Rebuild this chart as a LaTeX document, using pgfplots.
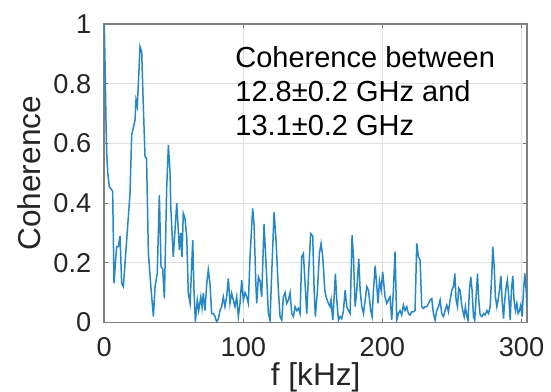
\documentclass[border=0pt]{standalone}
\usepackage{pgfplots}
\pgfplotsset{compat=1.18}
\usepackage{fontspec}
\setmainfont{Liberation Sans}
\definecolor{mblue}{rgb}{0,0.447,0.741}
\definecolor{tickgray}{rgb}{0.15,0.15,0.15}
\begin{document}
\begin{tikzpicture}
\begin{axis}[
  name=ax,
  width=211.35pt, height=149.25pt, scale only axis,
  xmin=0, xmax=304, ymin=0, ymax=1,
  xtick={0,100,200,300}, ytick={0,0.2,0.4,0.6,0.8,1},
  yticklabels={0,0.2,0.4,0.6,0.8,1},
  /pgf/number format/assume math mode=true,
  tick align=inside, major tick length=2pt,
  tick style={black!55, line width=0.6pt},
  axis line style={black!50, line width=0.8pt},
  grid=major, major grid style={gray!25, line width=0.6pt},
  ticklabel style={font=\fontsize{13.6}{16}\selectfont, text=tickgray},
  yticklabel style={inner sep=0pt, anchor=east, xshift=-6.3pt},
  xticklabel style={inner sep=0pt, anchor=north, yshift=-7.2pt},
  xlabel={f [kHz]}, ylabel={Coherence},
  label style={font=\fontsize{15.8}{18}\selectfont, text=tickgray, inner sep=0pt},
  xlabel style={at={(axis description cs:0.5,-0.2094)}, anchor=base},
  ylabel style={at={(axis description cs:-0.152,0.5)}, anchor=base},
  clip=true,
]
\addplot[mblue!85, line width=0.75pt] coordinates {
(0,1.0) (0.6,0.85) (1.2,0.68) (1.7,0.57) (2.5,0.50) (3.6,0.455) (5.3,0.444) (6.0,0.44)
(7.0,0.131) (8.0,0.20) (8.9,0.254) (10.1,0.254) (11.3,0.29) (12.5,0.131) (13.7,0.12)
(16.1,0.276) (18.5,0.433) (19.7,0.628) (22.1,0.678) (22.8,0.745) (23.7,0.725) (24.5,0.80)
(25.7,0.924) (26.9,0.907) (28.0,0.734) (29.3,0.555) (30.4,0.55) (31.7,0.232) (33.5,0.12)
(35.3,0.02) (36.5,0.12) (38.1,0.165) (39.6,0.427) (40.8,0.187) (42.0,0.18) (43.2,0.081)
(44.9,0.455) (46.1,0.595) (47.3,0.5) (47.8,0.388) (49.6,0.22) (52.1,0.40) (54.0,0.243)
(55.0,0.30) (55.9,0.22) (56.8,0.366) (58.0,0.35) (59.3,0.287) (60.4,0.098) (61.7,0.064)
(63.6,0.276) (64.5,0.109) (65.5,0.003) (66.9,0.075) (67.9,0.04) (69.4,0.086) (70.3,0.05)
(71.2,0.098) (72.4,0.04) (73.7,0.131) (74.8,0.176) (76.0,0.131) (77.2,0.03) (78.4,0.03)
(79.6,0.02) (80.8,0.003) (82.0,0.01) (83.2,0.04) (84.4,0.053) (85.6,0.086) (86.8,0.053)
(88.0,0.086) (89.2,0.148) (90.4,0.064) (91.6,0.098) (92.8,0.075) (94.0,0.053) (95.2,0.086)
(96.4,0.02) (97.6,0.064) (98.8,0.142) (100.0,0.075) (101.2,0.1) (102.4,0.086) (103.6,0.064)
(104.8,0.22) (106.7,0.382) (107.7,0.33) (108.9,0.14) (109.6,0.064) (110.8,0.153) (112.0,0.14)
(113.2,0.086) (114.9,0.33) (116.3,0.2) (118.0,0.03) (119.2,0.008) (120.4,0.164) (122.1,0.37)
(123.5,0.276) (125.2,0.108) (126.4,0.02) (127.6,0.008) (128.8,0.086) (130.0,0.1) (131.2,0.064)
(132.4,0.075) (133.6,0.1) (134.8,0.03) (136.0,0.02) (137.2,0.053) (138.4,0.04) (139.6,0.047)
(140.8,0.03) (142.0,0.22) (143.2,0.231) (144.4,0.13) (145.6,0.03) (146.8,0.153) (148.4,0.298)
(149.9,0.29) (150.9,0.108) (151.8,0.02) (153.3,0.108) (154.7,0.231) (155.9,0.265) (157.1,0.22)
(158.6,0.108) (159.5,0.086) (161.2,0.064) (162.4,0.053) (163.1,0.075) (164.3,0.008) (165.3,0.086)
(166.2,0.164) (167.2,0.075) (168.4,0.008) (169.6,0.02) (170.8,0.013) (172.0,0.04) (173.2,0.108)
(174.4,0.053) (175.6,0.04) (176.8,0.03) (178.2,0.293) (179.2,0.22) (180.4,0.053) (181.6,0.108)
(183.0,0.214) (184.0,0.108) (185.2,0.053) (186.4,0.03) (187.6,0.075) (188.8,0.12) (190.0,0.108)
(191.6,0.04) (192.6,0.02) (193.6,0.108) (194.8,0.19) (196.0,0.12) (196.9,0.064) (197.9,0.14)
(199.1,0.108) (200.2,0.17) (201.9,0.086) (203.1,0.064) (204.3,0.075) (205.5,0.086) (206.7,0.008)
(207.9,0.108) (209.1,0.237) (210.3,0.008) (211.5,0.03) (212.7,0.04) (213.9,0.025) (215.1,0.058)
(216.3,0.04) (217.5,0.053) (218.7,0.03) (219.9,0.025) (221.1,0.036) (222.3,0.036) (223.5,0.04)
(224.7,0.265) (225.9,0.22) (227.1,0.209) (228.3,0.053) (229.5,0.047) (230.7,0.053) (231.9,0.053)
(233.1,0.064) (234.3,0.075) (235.5,0.08) (236.7,0.03) (237.9,0.008) (239.1,0.04) (240.3,0.053)
(241.5,0.075) (242.7,0.03) (243.9,0.02) (245.1,0.04) (246.3,0.058) (247.5,0.036) (248.7,0.075)
(249.9,0.108) (251.1,0.12) (252.1,0.164) (253.0,0.075) (254.0,0.053) (254.9,0.115) (255.9,0.108)
(256.9,0.064) (257.8,0.04) (258.8,0.02) (259.7,0.053) (260.7,0.02) (261.6,0.008) (262.6,0.108)
(263.6,0.153) (264.5,0.108) (265.5,0.02) (266.4,0.008) (267.4,0.086) (268.4,0.164) (269.3,0.075)
(270.3,0.025) (271.5,0.02) (272.7,0.03) (273.9,0.025) (275.1,0.04) (276.3,0.03) (277.5,0.053)
(278.7,0.164) (279.4,0.254) (280.4,0.187) (281.3,0.086) (282.3,0.053) (283.2,0.075) (284.2,0.108)
(285.2,0.156) (286.1,0.075) (287.1,0.013) (288.0,0.075) (289.0,0.12) (289.9,0.142) (290.9,0.086)
(291.9,0.008) (292.8,0.108) (293.8,0.156) (294.7,0.075) (295.7,0.04) (296.7,0.064) (297.6,0.03)
(298.6,0.04) (299.5,0.058) (300.5,0.02) (301.5,0.108) (302.4,0.164) (303.4,0.108) (303.9,0.053)
};
\node[anchor=base west, inner sep=0pt, text=black, font=\fontsize{14.5}{16.8}\selectfont]
  at (axis cs:94,0.8526)
  {\begin{tabular}[t]{@{}l@{}}Coherence between\\12.8±0.2 GHz and\\13.1±0.2 GHz\end{tabular}};
\end{axis}
\pgfresetboundingbox
\path ([shift={(-52.15pt,-34.25pt)}]ax.south west) rectangle ([shift={(12pt,12pt)}]ax.north east);
\end{tikzpicture}
\end{document}
